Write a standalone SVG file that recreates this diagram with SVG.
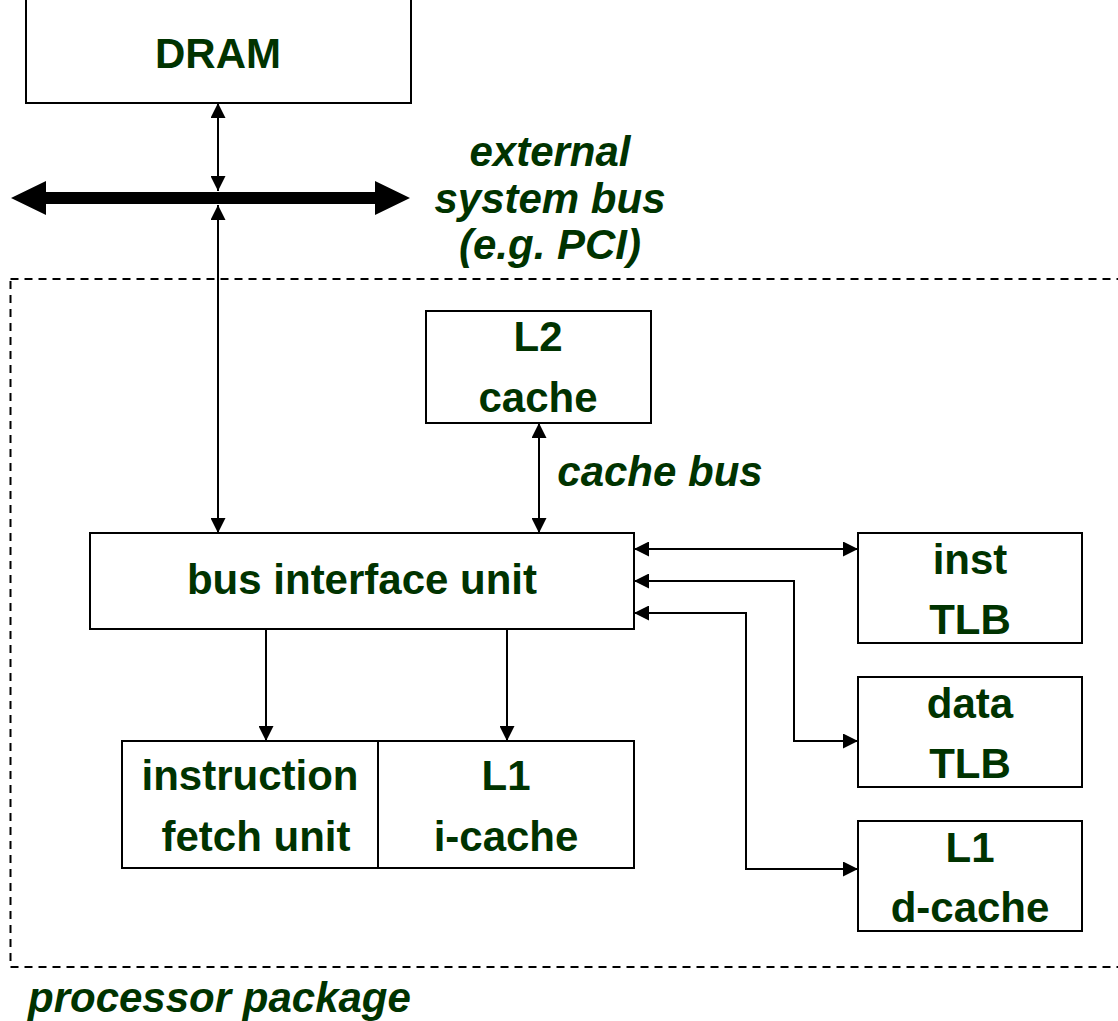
<svg xmlns="http://www.w3.org/2000/svg" width="1118" height="1021" viewBox="0 0 1118 1021">
<style>
.box{fill:#fff;stroke:#000;stroke-width:2}
.t{font-family:"Liberation Sans",Arial,sans-serif;font-weight:bold;font-size:42px;fill:#003300;text-anchor:middle}
.it{font-style:italic}
.c{fill:none;stroke:#000;stroke-width:2}
</style>
<defs>
<marker id="ah" viewBox="0 0 15 15" refX="15" refY="7.5" markerWidth="15" markerHeight="15" markerUnits="userSpaceOnUse" orient="auto-start-reverse">
<path d="M0,0 L15,7.5 L0,15 z" fill="#000"/>
</marker>
</defs>
<rect x="10.5" y="279" width="1130" height="688" fill="none" stroke="#000" stroke-width="2" stroke-dasharray="8,6"/>
<g id="DRAM"><rect class="box" x="26" y="-2" width="385" height="105"/><text class="t" x="218" y="68">DRAM</text></g>
<g id="system_bus">
<polygon points="11,198 46,181 46,192 375,192 375,181 410,198 375,215 375,204 46,204 46,215" fill="#000"/>
<text class="t it" x="550" y="166">external</text>
<text class="t it" x="550" y="213">system bus</text>
<text class="t it" x="550" y="259">(e.g. PCI)</text>
</g>
<g id="L2"><rect class="box" x="426" y="311" width="225" height="112"/><text class="t" x="538" y="351">L2</text><text class="t" x="538" y="412">cache</text></g>
<g id="BIU"><rect class="box" x="90" y="533" width="544" height="96"/><text class="t" x="362" y="594">bus interface unit</text></g>
<g id="instTLB"><rect class="box" x="858" y="533" width="224" height="110"/><text class="t" x="970" y="574">inst</text><text class="t" x="970" y="634">TLB</text></g>
<g id="dataTLB"><rect class="box" x="858" y="677" width="224" height="110"/><text class="t" x="970" y="718">data</text><text class="t" x="970" y="778">TLB</text></g>
<g id="L1d"><rect class="box" x="858" y="821" width="224" height="110"/><text class="t" x="970" y="862">L1</text><text class="t" x="970" y="922">d-cache</text></g>
<g id="IFU"><rect class="box" x="122" y="741" width="256" height="127"/><text class="t" x="250" y="790">instruction</text><text class="t" x="256" y="851">fetch unit</text></g>
<g id="L1i"><rect class="box" x="378" y="741" width="256" height="127"/><text class="t" x="506" y="790">L1</text><text class="t" x="506" y="851">i-cache</text></g>
<g id="connectors">
<line class="c" x1="218" y1="103" x2="218" y2="191" marker-start="url(#ah)" marker-end="url(#ah)"/>
<line class="c" x1="218" y1="205" x2="218" y2="533" marker-start="url(#ah)" marker-end="url(#ah)"/>
<line class="c" x1="539" y1="423" x2="539" y2="533" marker-start="url(#ah)" marker-end="url(#ah)"/>
<line class="c" x1="266" y1="629" x2="266" y2="741" marker-end="url(#ah)"/>
<line class="c" x1="507" y1="629" x2="507" y2="741" marker-end="url(#ah)"/>
<line class="c" x1="634" y1="549" x2="858" y2="549" marker-start="url(#ah)" marker-end="url(#ah)"/>
<path class="c" d="M634,581 H794 V741 H858" marker-start="url(#ah)" marker-end="url(#ah)"/>
<path class="c" d="M634,613 H746 V869 H858" marker-start="url(#ah)" marker-end="url(#ah)"/>
</g>
<text class="t it" x="660" y="486">cache bus</text>
<text class="t it" x="28" y="1012" style="text-anchor:start">processor package</text>
</svg>
